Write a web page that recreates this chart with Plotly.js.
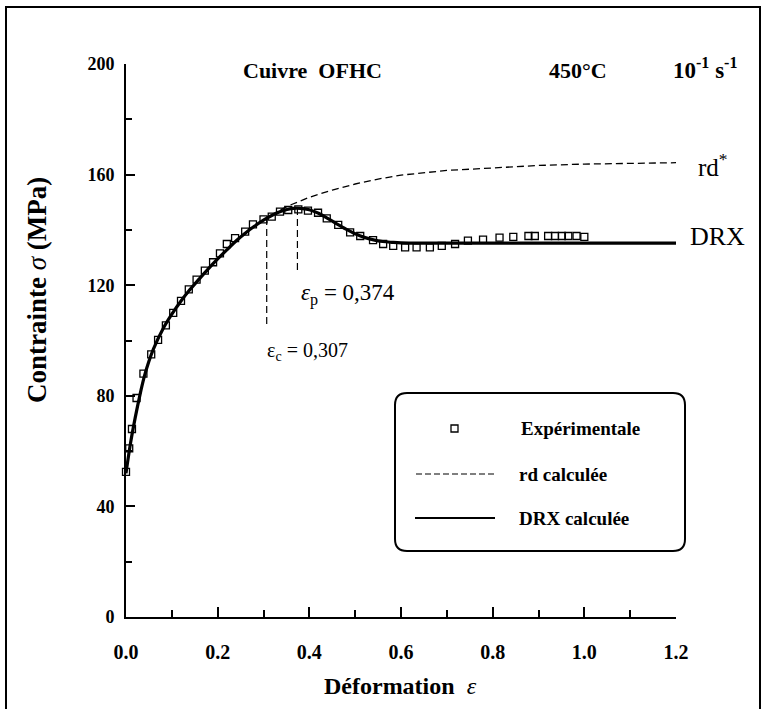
<!DOCTYPE html>
<html>
<head>
<meta charset="utf-8">
<script src="https://cdn.plot.ly/plotly-3.0.1.min.js"></script>
<style>html,body{margin:0;padding:0;background:#fff;}</style>
</head>
<body>
<div id="chart" style="width:769px;height:709px;"></div>
<script>
// ---- Data ----
const drxStrain = [0, 0.01, 0.02, 0.03, 0.04, 0.05, 0.06, 0.08, 0.10, 0.12, 0.14, 0.16, 0.18, 0.20, 0.22, 0.24, 0.26, 0.28, 0.30, 0.32, 0.34, 0.36, 0.38, 0.40, 0.42, 0.44, 0.46, 0.48, 0.50, 0.52, 0.54, 0.56, 0.58, 0.60, 0.70, 0.80, 0.90, 1.00, 1.10, 1.20];
const drxStress = [52, 63, 72, 80, 87, 92.5, 97, 104, 109.5, 114.3, 118.5, 122.3, 126, 129.5, 132.8, 136, 138.8, 141.3, 143.5, 145.4, 146.8, 147.7, 147.8, 147.3, 146, 144.2, 142.2, 140.3, 138.6, 137.3, 136.4, 135.8, 135.5, 135.3, 135.2, 135.2, 135.2, 135.2, 135.2, 135.2];

const rdStrain = [0, 0.01, 0.02, 0.03, 0.04, 0.05, 0.06, 0.08, 0.10, 0.12, 0.14, 0.16, 0.18, 0.20, 0.22, 0.24, 0.26, 0.28, 0.30, 0.32, 0.34, 0.36, 0.38, 0.40, 0.45, 0.50, 0.55, 0.60, 0.70, 0.80, 0.90, 1.00, 1.10, 1.20];
const rdStress = [52, 63, 72, 80, 87, 92.5, 97, 104, 109.5, 114.3, 118.5, 122.3, 126, 129.5, 132.8, 136, 138.8, 141.3, 143.6, 145.7, 147.5, 149.1, 150.5, 151.8, 154.4, 156.6, 158.4, 159.8, 161.5, 162.5, 163.3, 163.8, 164.1, 164.3];

const expStrain = [0.0, 0.007, 0.013, 0.023, 0.038, 0.055, 0.070, 0.087, 0.103, 0.120, 0.137, 0.154, 0.172, 0.190, 0.205, 0.220, 0.238, 0.260, 0.277, 0.300, 0.318, 0.336, 0.354, 0.376, 0.397, 0.419, 0.438, 0.463, 0.489, 0.511, 0.539, 0.561, 0.583, 0.609, 0.634, 0.663, 0.689, 0.718, 0.746, 0.779, 0.815, 0.845, 0.878, 0.892, 0.921, 0.936, 0.951, 0.965, 0.983, 1.000];
const expStress = [52.5, 61, 68, 79.2, 88, 95, 100.2, 105.5, 110, 114.3, 118.5, 122, 125.3, 128.3, 131.5, 134.9, 137, 139.4, 142, 143.8, 144.8, 146.6, 147.2, 147.4, 147, 146.2, 144.2, 141.8, 139.1, 137.8, 136.3, 134.9, 134.2, 133.7, 133.7, 133.7, 134.2, 134.9, 136.1, 136.5, 137.2, 137.5, 137.8, 137.8, 137.8, 137.8, 137.8, 137.8, 137.8, 137.5];

const epsC = 0.307, epsCStress = 144.5, epsCLow = 106;
const epsP = 0.374, epsPStress = 147.6, epsPLow = 125.5;

const xTickVals = [0, 0.2, 0.4, 0.6, 0.8, 1.0, 1.2];
const xTickText = ['0.0', '0.2', '0.4', '0.6', '0.8', '1.0', '1.2'];
const yTickVals = [0, 40, 80, 120, 160, 200];

// ---- Layout helpers (pixel -> paper) ----
const W = 769, H = 709;
const L = 126, R = 676, T = 64, B = 617;
const px = x => (x - L) / (R - L);
const py = y => (B - y) / (B - T);

const serif = 'Liberation Serif, Times New Roman, serif';
const black = '#000';

const traces = [
  {x: rdStrain, y: rdStress, mode: 'lines', line: {color: black, width: 1.3, dash: '7px,4px'}, showlegend: false, hoverinfo: 'skip'},
  {x: drxStrain, y: drxStress, mode: 'lines', line: {color: black, width: 3.2, shape: 'spline'}, showlegend: false, hoverinfo: 'skip'},
  {x: expStrain, y: expStress, mode: 'markers', cliponaxis: false,
   marker: {symbol: 'square-open', size: 7, color: black, line: {width: 1.3, color: black}}, showlegend: false, hoverinfo: 'skip'}
];

const ann = (x, y, text, size, opts) => Object.assign({
  xref: 'paper', yref: 'paper', x: px(x), y: py(y), text: text, showarrow: false,
  font: {family: serif, size: size, color: black}, xanchor: 'center', yanchor: 'middle'
}, opts || {});

// Rounded legend box
const bx0 = 395, bx1 = 685, by0 = 393, by1 = 551, rr = 12;
const boxPath = `M ${px(bx0 + rr)} ${py(by0)} L ${px(bx1 - rr)} ${py(by0)} Q ${px(bx1)} ${py(by0)} ${px(bx1)} ${py(by0 + rr)} ` +
  `L ${px(bx1)} ${py(by1 - rr)} Q ${px(bx1)} ${py(by1)} ${px(bx1 - rr)} ${py(by1)} L ${px(bx0 + rr)} ${py(by1)} ` +
  `Q ${px(bx0)} ${py(by1)} ${px(bx0)} ${py(by1 - rr)} L ${px(bx0)} ${py(by0 + rr)} Q ${px(bx0)} ${py(by0)} ${px(bx0 + rr)} ${py(by0)} Z`;

const layout = {
  width: W, height: H,
  margin: {l: L, r: W - R, t: T, b: H - B, pad: 0},
  paper_bgcolor: '#fff', plot_bgcolor: '#fff',
  showlegend: false,
  xaxis: {
    range: [0, 1.2], showgrid: false, zeroline: false, showline: true, linecolor: black, linewidth: 2,
    tickmode: 'array', tickvals: xTickVals, ticktext: xTickText,
    ticks: 'inside', ticklen: 10, tickwidth: 2, tickcolor: black, ticklabelstandoff: 16,
    tickfont: {family: serif, size: 20, color: black, weight: 'bold'},
    minor: {dtick: 0.1, ticks: 'inside', ticklen: 7, tickwidth: 2, tickcolor: black, showgrid: false}
  },
  yaxis: {
    range: [0, 200], showgrid: false, zeroline: false, showline: true, linecolor: black, linewidth: 2,
    tickmode: 'array', tickvals: yTickVals,
    ticks: 'inside', ticklen: 9, tickwidth: 2, tickcolor: black, ticklabelstandoff: 6,
    tickfont: {family: serif, size: 18, color: black, weight: 'bold'},
    minor: {dtick: 20, ticks: 'inside', ticklen: 6, tickwidth: 2, tickcolor: black, showgrid: false}
  },
  shapes: [
    // outer frame
    {type: 'rect', xref: 'paper', yref: 'paper', x0: px(6), x1: px(760), y0: py(720), y1: py(7), line: {color: black, width: 2}},
    // critical and peak strain markers
    {type: 'line', xref: 'x', yref: 'y', x0: epsC, x1: epsC, y0: epsCLow, y1: epsCStress, line: {color: black, width: 1.2, dash: '7px,4px'}},
    {type: 'line', xref: 'x', yref: 'y', x0: epsP, x1: epsP, y0: epsPLow, y1: epsPStress, line: {color: black, width: 1.2, dash: '7px,4px'}},
    // legend box
    {type: 'path', xref: 'paper', yref: 'paper', path: boxPath, line: {color: black, width: 2}},
    // legend samples
    {type: 'rect', xref: 'paper', yref: 'paper', x0: px(451), x1: px(458), y0: py(432), y1: py(425), line: {color: black, width: 1.3}},
    {type: 'line', xref: 'paper', yref: 'paper', x0: px(416), x1: px(494), y0: py(474), y1: py(474), line: {color: black, width: 1.2, dash: '6px,3px'}},
    {type: 'line', xref: 'paper', yref: 'paper', x0: px(415), x1: px(495), y0: py(518), y1: py(518), line: {color: black, width: 2.2}}
  ],
  annotations: [
    ann(312, 70, '<b>Cuivre  OFHC</b>', 22),
    ann(578, 70, '<b>450°C</b>', 22),
    ann(671, 68, '<b>10<sup>-1</sup> s<sup>-1</sup></b>', 23, {xanchor: 'left'}),
    ann(696, 165, 'rd<sup>*</sup>', 25, {xanchor: 'left'}),
    ann(688, 236, 'DRX', 26, {xanchor: 'left'}),
    ann(299, 294, '<i>ε</i><sub>p</sub> = 0,374', 23, {xanchor: 'left'}),
    ann(265, 351, 'ε<sub>c</sub> = 0,307', 20, {xanchor: 'left'}),
    ann(519, 428, '<b>Expérimentale</b>', 19, {xanchor: 'left'}),
    ann(517, 474, '<b>rd calculée</b>', 19, {xanchor: 'left'}),
    ann(517, 518, '<b>DRX calculée</b>', 19, {xanchor: 'left'}),
    ann(400, 686, '<b>Déformation</b>  <i>ε</i>', 24),
    ann(37, 290, '<b>Contrainte</b> <i>σ</i> <b>(MPa)</b>', 27, {textangle: -90})
  ]
};

Plotly.newPlot('chart', traces, layout, {staticPlot: true, displayModeBar: false});
</script>
</body>
</html>
